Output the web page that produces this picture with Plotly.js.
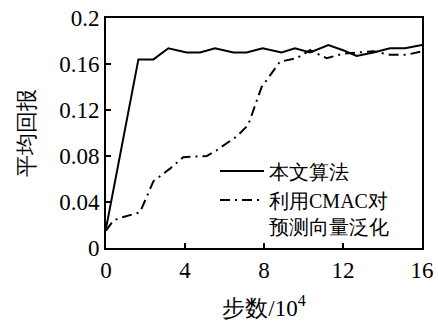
<!DOCTYPE html>
<html><head><meta charset="utf-8">
<script src="https://cdn.plot.ly/plotly-3.0.1.min.js"></script>
<style>html,body{margin:0;padding:0;background:#fff}</style>
</head><body>
<div id="chart" style="width:438px;height:321px"></div>
<script>
const xA = [0, 1.64, 2.4, 3.16, 4.08, 4.76, 5.52, 6.45, 7.12, 7.93, 8.89, 9.57, 10.33, 11.26, 12.0, 12.69, 13.54, 14.38, 15.14, 16];
const yA = [0.017, 0.164, 0.164, 0.1737, 0.170, 0.170, 0.1737, 0.170, 0.170, 0.1737, 0.170, 0.1737, 0.170, 0.1765, 0.172, 0.167, 0.170, 0.1737, 0.1737, 0.1765];
const xB = [0, 0.37, 0.88, 1.72, 2.4, 3.24, 3.91, 5.1, 5.6, 6.62, 7.2, 7.88, 8.81, 9.65, 10.33, 11.17, 12.0, 12.69, 13.54, 14.38, 15.2, 16];
const yB = [0.015, 0.024, 0.027, 0.031, 0.058, 0.069, 0.079, 0.080, 0.085, 0.097, 0.107, 0.140, 0.162, 0.165, 0.172, 0.165, 0.169, 0.170, 0.171, 0.168, 0.168, 0.171];
const names = ['本文算法', '利用CMAC对<br>预测向量泛化'];
const xTicks = [0, 4, 8, 12, 16];
const yTicks = [0, 0.04, 0.08, 0.12, 0.16, 0.2];
const yTickText = ['0', '0.04', '0.08', '0.12', '0.16', '0.2'];

function fnt(size) { return {family: 'Liberation Serif', size: size, color: '#000'}; }
const traces = [
  {x: xA, y: yA, name: names[0], mode: 'lines', line: {color: '#000', width: 2}},
  {x: xB, y: yB, name: names[1], mode: 'lines', line: {color: '#000', width: 2, dash: '10px,5px,2px,5px'}}
];
const layout = {
  width: 438, height: 321,
  margin: {l: 106, r: 16, t: 18, b: 73},
  paper_bgcolor: '#fff', plot_bgcolor: '#fff',
  showlegend: true,
  legend: {x: 0.345, y: 0.42, xanchor: 'left', yanchor: 'top', bgcolor: 'rgba(0,0,0,0)',
           font: fnt(20), valign: 'top', itemwidth: 44},
  xaxis: {range: [0, 16], tickvals: xTicks, ticktext: xTicks.map(String), ticks: 'inside', ticklen: 5,
          tickwidth: 1.5, tickcolor: '#000', showline: true, linecolor: '#000', linewidth: 2, mirror: true,
          showgrid: false, zeroline: false, tickfont: fnt(23),
          title: {text: '步数/10<sup>4</sup>', font: fnt(23), standoff: 18}},
  yaxis: {range: [0, 0.2], tickvals: yTicks, ticktext: yTickText, ticks: 'inside', ticklen: 5,
          tickwidth: 1.5, tickcolor: '#000', showline: true, linecolor: '#000', linewidth: 2, mirror: true,
          showgrid: false, zeroline: false, tickfont: fnt(23),
          title: {text: '平均回报', font: fnt(22), standoff: 18}}
};
Plotly.newPlot('chart', traces, layout, {displayModeBar: false, staticPlot: true});
</script>
</body></html>
